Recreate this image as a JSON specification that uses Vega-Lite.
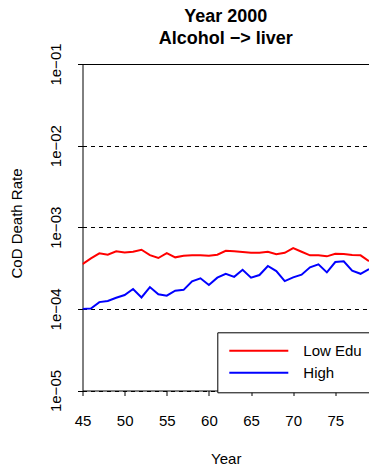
{
  "$schema": "https://vega.github.io/schema/vega-lite/v6.json",
  "width": 286.5,
  "height": 326.5,
  "autosize": "none",
  "padding": {"left": 82.5, "top": 64, "right": 0, "bottom": 74.5},
  "background": "white",
  "config": {"view": {"stroke": null}, "font": "Liberation Sans"},
  "title": {
    "text": ["Year 2000", "Alcohol −> liver"],
    "fontSize": 18,
    "fontWeight": "bold",
    "lineHeight": 22.6,
    "anchor": "middle",
    "frame": "group",
    "baseline": "bottom",
    "offset": -23.5,
    "color": "black"
  },
  "datasets": {
    "rates": [
      {"year": 45, "group": "Low Edu", "rate": 3.54e-4},
      {"year": 46, "group": "Low Edu", "rate": 4.16e-4},
      {"year": 47, "group": "Low Edu", "rate": 4.79e-4},
      {"year": 48, "group": "Low Edu", "rate": 4.60e-4},
      {"year": 49, "group": "Low Edu", "rate": 5.07e-4},
      {"year": 50, "group": "Low Edu", "rate": 4.92e-4},
      {"year": 51, "group": "Low Edu", "rate": 5.01e-4},
      {"year": 52, "group": "Low Edu", "rate": 5.30e-4},
      {"year": 53, "group": "Low Edu", "rate": 4.56e-4},
      {"year": 54, "group": "Low Edu", "rate": 4.20e-4},
      {"year": 55, "group": "Low Edu", "rate": 4.83e-4},
      {"year": 56, "group": "Low Edu", "rate": 4.28e-4},
      {"year": 57, "group": "Low Edu", "rate": 4.48e-4},
      {"year": 58, "group": "Low Edu", "rate": 4.53e-4},
      {"year": 59, "group": "Low Edu", "rate": 4.53e-4},
      {"year": 60, "group": "Low Edu", "rate": 4.48e-4},
      {"year": 61, "group": "Low Edu", "rate": 4.60e-4},
      {"year": 62, "group": "Low Edu", "rate": 5.14e-4},
      {"year": 63, "group": "Low Edu", "rate": 5.07e-4},
      {"year": 64, "group": "Low Edu", "rate": 4.97e-4},
      {"year": 65, "group": "Low Edu", "rate": 4.87e-4},
      {"year": 66, "group": "Low Edu", "rate": 4.87e-4},
      {"year": 67, "group": "Low Edu", "rate": 5.01e-4},
      {"year": 68, "group": "Low Edu", "rate": 4.66e-4},
      {"year": 69, "group": "Low Edu", "rate": 4.87e-4},
      {"year": 70, "group": "Low Edu", "rate": 5.56e-4},
      {"year": 71, "group": "Low Edu", "rate": 5.01e-4},
      {"year": 72, "group": "Low Edu", "rate": 4.53e-4},
      {"year": 73, "group": "Low Edu", "rate": 4.53e-4},
      {"year": 74, "group": "Low Edu", "rate": 4.40e-4},
      {"year": 75, "group": "Low Edu", "rate": 4.73e-4},
      {"year": 76, "group": "Low Edu", "rate": 4.70e-4},
      {"year": 77, "group": "Low Edu", "rate": 4.56e-4},
      {"year": 78, "group": "Low Edu", "rate": 4.53e-4},
      {"year": 79, "group": "Low Edu", "rate": 3.85e-4},
      {"year": 45, "group": "High", "rate": 1.00e-4},
      {"year": 46, "group": "High", "rate": 1.01e-4},
      {"year": 47, "group": "High", "rate": 1.21e-4},
      {"year": 48, "group": "High", "rate": 1.25e-4},
      {"year": 49, "group": "High", "rate": 1.37e-4},
      {"year": 50, "group": "High", "rate": 1.48e-4},
      {"year": 51, "group": "High", "rate": 1.75e-4},
      {"year": 52, "group": "High", "rate": 1.38e-4},
      {"year": 53, "group": "High", "rate": 1.85e-4},
      {"year": 54, "group": "High", "rate": 1.51e-4},
      {"year": 55, "group": "High", "rate": 1.45e-4},
      {"year": 56, "group": "High", "rate": 1.67e-4},
      {"year": 57, "group": "High", "rate": 1.71e-4},
      {"year": 58, "group": "High", "rate": 2.17e-4},
      {"year": 59, "group": "High", "rate": 2.37e-4},
      {"year": 60, "group": "High", "rate": 1.96e-4},
      {"year": 61, "group": "High", "rate": 2.41e-4},
      {"year": 62, "group": "High", "rate": 2.69e-4},
      {"year": 63, "group": "High", "rate": 2.47e-4},
      {"year": 64, "group": "High", "rate": 3.01e-4},
      {"year": 65, "group": "High", "rate": 2.41e-4},
      {"year": 66, "group": "High", "rate": 2.60e-4},
      {"year": 67, "group": "High", "rate": 3.35e-4},
      {"year": 68, "group": "High", "rate": 2.90e-4},
      {"year": 69, "group": "High", "rate": 2.19e-4},
      {"year": 70, "group": "High", "rate": 2.43e-4},
      {"year": 71, "group": "High", "rate": 2.62e-4},
      {"year": 72, "group": "High", "rate": 3.23e-4},
      {"year": 73, "group": "High", "rate": 3.51e-4},
      {"year": 74, "group": "High", "rate": 2.80e-4},
      {"year": 75, "group": "High", "rate": 3.75e-4},
      {"year": 76, "group": "High", "rate": 3.82e-4},
      {"year": 77, "group": "High", "rate": 2.93e-4},
      {"year": 78, "group": "High", "rate": 2.69e-4},
      {"year": 79, "group": "High", "rate": 3.07e-4}
    ]
  },
  "data": {"name": "rates"},
  "layer": [
    {
      "mark": {"type": "line", "strokeWidth": 2, "clip": true},
      "encoding": {
        "x": {
          "field": "year",
          "type": "quantitative",
          "scale": {"domain": [45, 79], "nice": false, "zero": false},
          "axis": {
            "orient": "bottom",
            "values": [45, 50, 55, 60, 65, 70, 75],
            "grid": false,
            "tickSize": 5,
            "tickColor": "black",
            "domainColor": "black",
            "labelColor": "black",
            "labelFontSize": 15,
            "labelBaseline": "alphabetic",
            "labelPadding": 29.5,
            "labelFlush": false,
            "labelOverlap": false,
            "title": "Year",
            "titleFontSize": 15,
            "titleFontWeight": "normal",
            "titleColor": "black",
            "titleBaseline": "alphabetic",
            "titleY": 73
          }
        },
        "y": {
          "field": "rate",
          "type": "quantitative",
          "scale": {"type": "log", "domain": [1e-5, 0.1], "nice": false},
          "axis": {
            "values": [1e-5, 1e-4, 1e-3, 1e-2, 0.1],
            "labelExpr": "'1e−0' + round(-log(datum.value) / LN10)",
            "grid": true,
            "gridColor": "black",
            "gridDash": [4, 4],
            "gridWidth": 1,
            "tickSize": 5,
            "tickColor": "black",
            "domainColor": "black",
            "labelColor": "black",
            "labelFontSize": 15,
            "labelAngle": 270,
            "labelAlign": "center",
            "labelBaseline": "alphabetic",
            "labelPadding": 17.5,
            "labelFlush": false,
            "labelOverlap": false,
            "title": "CoD Death Rate",
            "titleFontSize": 15,
            "titleFontWeight": "normal",
            "titleColor": "black",
            "titleAngle": 270,
            "titleAlign": "center",
            "titleBaseline": "alphabetic",
            "titleX": -61,
            "titleY": 159
          }
        },
        "color": {
          "field": "group",
          "type": "nominal",
          "scale": {"domain": ["Low Edu", "High"], "range": ["#ff0000", "#0000ff"]},
          "legend": {
            "orient": "none",
            "legendX": 134.8,
            "legendY": 268.3,
            "title": null,
            "symbolType": "stroke",
            "symbolSize": 3481,
            "symbolStrokeWidth": 2,
            "clipHeight": 15,
            "labelFontSize": 15,
            "labelColor": "black",
            "labelOffset": 14,
            "labelExpr": "datum.label + '\u00a0\u00a0\u00a0\u00a0'",
            "padding": 11,
            "rowPadding": 6,
            "strokeColor": "black",
            "fillColor": "white"
          }
        }
      }
    },
    {
      "mark": {"type": "rule", "opacity": 0},
      "encoding": {
        "x": {
          "field": "year",
          "type": "quantitative",
          "axis": {
            "orient": "top",
            "labels": false,
            "ticks": false,
            "grid": false,
            "title": null,
            "domainColor": "black",
            "domainWidth": 1
          }
        }
      }
    }
  ],
  "resolve": {"axis": {"x": "independent"}}
}
